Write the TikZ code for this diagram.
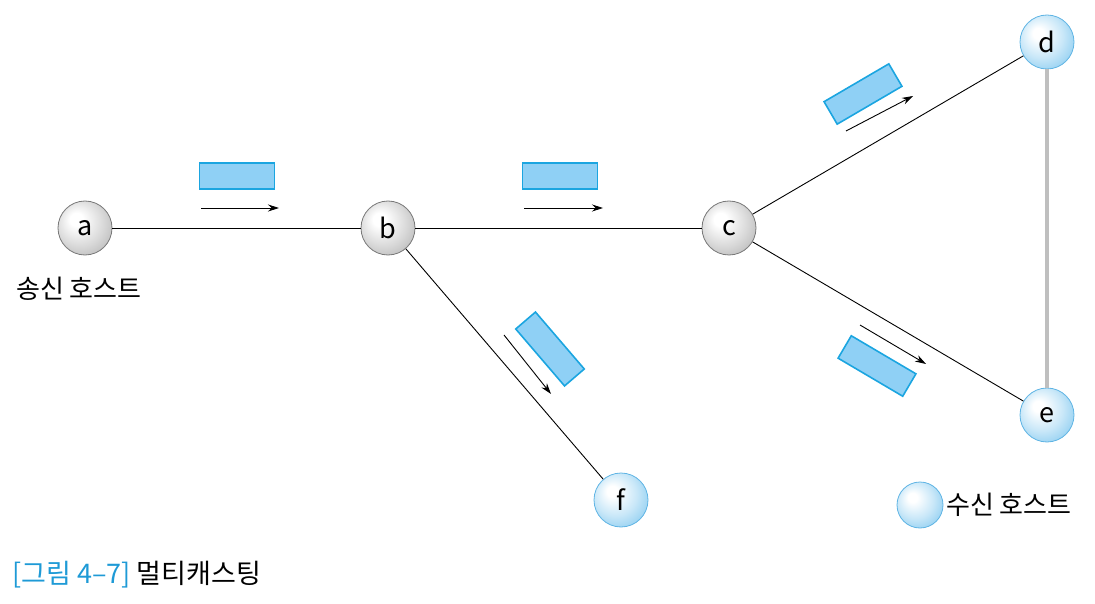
\documentclass[tikz,border=0pt]{standalone}
\usepackage{fontspec}
\setmainfont{Noto Sans CJK KR}
\usepackage{tikz}
\usetikzlibrary{arrows.meta, positioning}
\usepackage{xcolor}
\definecolor{packetfill}{RGB}{143,208,245}
\definecolor{packetline}{RGB}{27,165,224}
\definecolor{captionblue}{RGB}{30,154,214}
\definecolor{hostline}{RGB}{95,180,228}
\definecolor{hostedge}{RGB}{120,196,238}
\definecolor{routerline}{RGB}{120,120,120}

\pgfdeclareradialshading{routerball}{\pgfpoint{-9bp}{9bp}}{%
  color(0bp)=(white); color(6bp)=(white); color(22bp)=(gray!30);
  color(34bp)=(gray!55); color(50bp)=(gray!65)}
\pgfdeclareradialshading{hostball}{\pgfpoint{-9bp}{9bp}}{%
  color(0bp)=(white); color(5bp)=(white); color(20bp)=(hostedge!40);
  color(32bp)=(hostedge!80); color(50bp)=(hostedge)}

\tikzset{
  router/.style={circle, minimum size=54pt, inner sep=0pt, shading=routerball,
    draw=routerline, line width=0.8pt, font=\fontsize{27}{27}\selectfont},
  host/.style={circle, minimum size=54pt, inner sep=0pt, shading=hostball,
    draw=hostline, line width=0.8pt, font=\fontsize{27}{27}\selectfont},
  packet/.style={rectangle, minimum width=75pt, minimum height=26pt, inner sep=0pt,
    fill=packetfill, draw=packetline, line width=1.6pt},
  link/.style={line width=0.9pt},
  flow/.style={line width=0.9pt, -{Stealth[length=11pt, width=7pt]}},
  label/.style={font=\fontsize{26}{26}\selectfont}
}

\begin{document}
\begin{tikzpicture}[x=1pt, y=-1pt]
    \useasboundingbox (0,0) rectangle (1095,604);

    % Nodes
    \node[router] (a) at (85,228) {a};
    \node[router] (b) at (388,228) {b};
    \node[router] (c) at (729,228) {c};
    \node[host] (d) at (1047,42) {d};
    \node[host] (e) at (1047,415) {e};
    \node[host] (f) at (621,500) {f};

    % Links
    \draw[link] (a) -- (b);
    \draw[link] (b) -- (c);
    \draw[link] (b) -- (f);
    \draw[link] (c) -- (d);
    \draw[link] (c) -- (e);
    \draw[gray!50, line width=4pt] (d) -- (e);

    % Packets
    \node[packet] (p1) at (237,176) {};
    \node[packet] (p2) at (560,176) {};
    \node[packet, rotate=30.3] (p3) at (863,94) {};
    \node[packet, rotate=-30.5] (p4) at (877,366) {};
    \node[packet, rotate=-49.4] (p5) at (550,349) {};

    % Direction arrows
    \coordinate (s1) at (201,208);  \coordinate (t1) at (279,208);
    \coordinate (s2) at (524,208);  \coordinate (t2) at (603,208);
    \coordinate (s3) at (846,131);  \coordinate (t3) at (913,96);
    \coordinate (s4) at (860,325);  \coordinate (t4) at (926,364);
    \coordinate (s5) at (504,335);  \coordinate (t5) at (551,394);
    \foreach \i in {1,...,5} {
        \draw[flow] (s\i) -- (t\i);
    }

    % Labels
    \node[label] (sender) at (79,289) {송신 호스트};
    \node[host, minimum size=46pt] (legend) at (920,505) {};
    \node[label, anchor=west, inner sep=0pt] (receiver) at (946,505) {수신 호스트};

    % Caption
    \node[anchor=west, inner sep=0pt, font=\fontsize{27}{27}\selectfont] (caption) at (12,575)
        {\textcolor{captionblue}{[그림 4–7]}\ 멀티캐스팅};
\end{tikzpicture}
\end{document}
